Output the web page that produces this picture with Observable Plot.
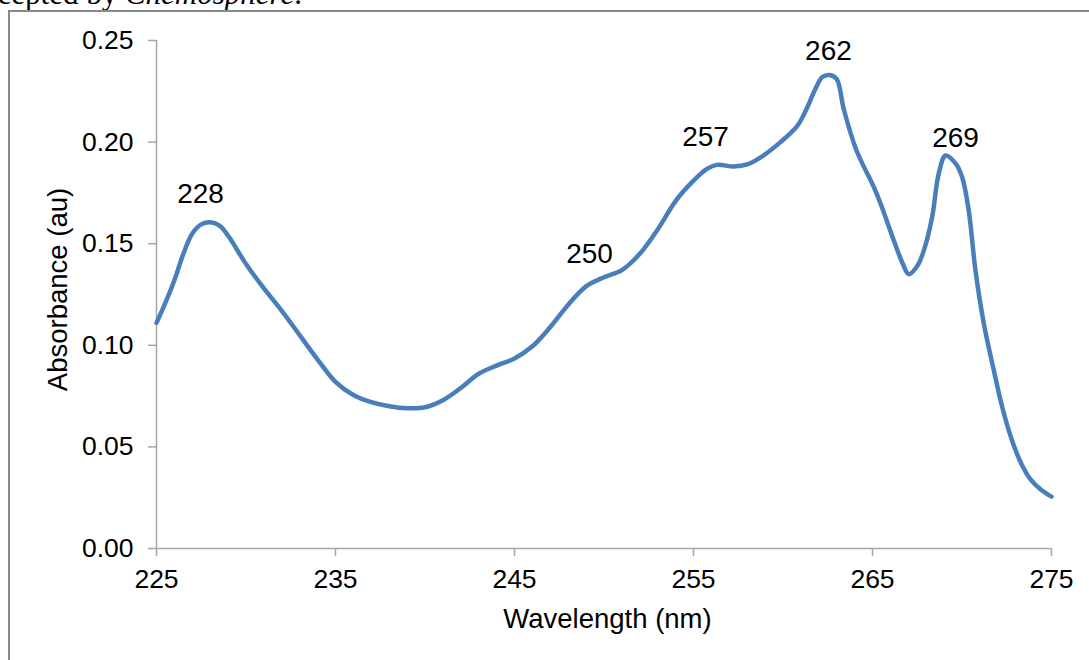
<!DOCTYPE html>
<html>
<head>
<meta charset="utf-8">
<script src="https://cdn.jsdelivr.net/npm/d3@7"></script>
<script src="https://cdn.jsdelivr.net/npm/@observablehq/plot@0.6"></script>
<style>
  html, body { margin: 0; padding: 0; background: #fff; overflow: hidden; width: 1089px; height: 660px; }
  #wrap { position: relative; width: 1089px; height: 660px; overflow: hidden; }
  #frame { position: absolute; left: 8px; top: 10px; width: 1200px; height: 800px; border-left: 2.5px solid #8a8a8a; border-top: 2.5px solid #8a8a8a; box-sizing: border-box; }
  #note { position: absolute; right: calc(1089px - 302px); top: -22px; font-family: "Liberation Serif", "Times New Roman", serif; font-size: 31px; white-space: nowrap; color: #000; line-height: 31px; }
  #chart { position: absolute; left: 0; top: 0; }
</style>
</head>
<body>
<div id="wrap">
  <div id="note">accepted by <i>Chemosphere</i>.</div>
  <div id="frame"></div>
  <div id="chart"></div>
</div>
<script>
// Spectrum
const wavelength = [225, 225.5, 226, 226.5, 227, 227.5, 228, 228.5, 229, 229.5, 230, 231, 232, 233, 234, 235, 236, 237, 238, 239, 240, 241, 242, 243, 244, 245, 246, 247, 248, 249, 250, 251, 252, 253, 254, 255, 255.75, 256.3, 257.25, 258, 258.75, 259.86, 260.8, 261.3, 261.8, 262.2, 262.6, 263, 263.4, 264.1, 265.07, 265.45, 266.19, 266.7, 267.03, 267.5, 267.87, 268.33, 268.7, 269.08, 269.64, 270.01, 270.38, 270.75, 271.22, 271.78, 272.25, 272.8, 273.3, 273.83, 274.4, 275];
const absorbance = [0.111, 0.121, 0.132, 0.145, 0.155, 0.1595, 0.1605, 0.159, 0.154, 0.147, 0.140, 0.128, 0.117, 0.105, 0.093, 0.082, 0.0755, 0.072, 0.070, 0.069, 0.0695, 0.073, 0.079, 0.086, 0.090, 0.0935, 0.0995, 0.109, 0.120, 0.129, 0.1335, 0.137, 0.145, 0.157, 0.171, 0.181, 0.1868, 0.1888, 0.188, 0.189, 0.1925, 0.200, 0.208, 0.216, 0.226, 0.232, 0.233, 0.231, 0.216, 0.196, 0.178, 0.1698, 0.1516, 0.140, 0.135, 0.139, 0.1467, 0.163, 0.1845, 0.1934, 0.1895, 0.1827, 0.166, 0.137, 0.1107, 0.0876, 0.0695, 0.053, 0.042, 0.034, 0.029, 0.0255];

// Peak annotations
const peakLabels = ["228", "250", "257", "262", "269"];
const peakLabelX = [227.46, 249.19, 255.67, 262.54, 269.64];
const peakLabelY = [0.1698, 0.1407, 0.1983, 0.2402, 0.1978];

// Axis ticks and titles
const xTicks = [225, 235, 245, 255, 265, 275];
const yTicks = [0, 0.05, 0.10, 0.15, 0.20, 0.25];
const xTitle = "Wavelength (nm)";
const yTitle = "Absorbance (au)";

const spectrum = wavelength.map((w, i) => ({w, a: absorbance[i]}));
const peaks = peakLabels.map((t, i) => ({t, x: peakLabelX[i], y: peakLabelY[i]}));

const axisColor = "#a6a6a6";

const chart = Plot.plot({
  width: 1089,
  height: 660,
  marginLeft: 156,
  marginRight: 38,
  marginTop: 40,
  marginBottom: 112,
  style: {fontFamily: "'Liberation Sans', Arial, sans-serif", fontSize: "26.5px", color: "#000", background: "transparent", overflow: "visible"},
  x: {domain: [225, 275]},
  y: {domain: [0, 0.25]},
  marks: [
    Plot.ruleX([225], {stroke: axisColor, strokeWidth: 1.5}),
    Plot.ruleY([0], {stroke: axisColor, strokeWidth: 1.5}),
    Plot.axisX({ticks: xTicks, tickSize: 8, tickPadding: 13, stroke: axisColor, strokeWidth: 1.5, tickFormat: d => String(d), fill: "#000", label: null}),
    Plot.axisY({ticks: yTicks, tickSize: 8, tickPadding: 15, stroke: axisColor, strokeWidth: 1.5, tickFormat: d => d.toFixed(2), fill: "#000", label: null}),
    Plot.text([xTitle], {frameAnchor: "bottom", text: d => d, textAnchor: "middle", lineAnchor: "bottom", dy: 79, dx: 3.5, fontSize: 27.5, fill: "#000"}),
    Plot.text([yTitle], {frameAnchor: "left", text: d => d, rotate: -90, textAnchor: "middle", lineAnchor: "bottom", dx: -90, dy: -5, fontSize: 27.5, fill: "#000"}),
    Plot.line(spectrum, {x: "w", y: "a", curve: "catmull-rom", stroke: "#4a7ebb", strokeWidth: 4.5, strokeLinejoin: "round", strokeLinecap: "round"}),
    Plot.text(peaks, {x: "x", y: "y", text: "t", lineAnchor: "bottom", textAnchor: "middle", fontSize: 28, fill: "#000"})
  ]
});
document.getElementById("chart").appendChild(chart);
</script>
</body>
</html>
